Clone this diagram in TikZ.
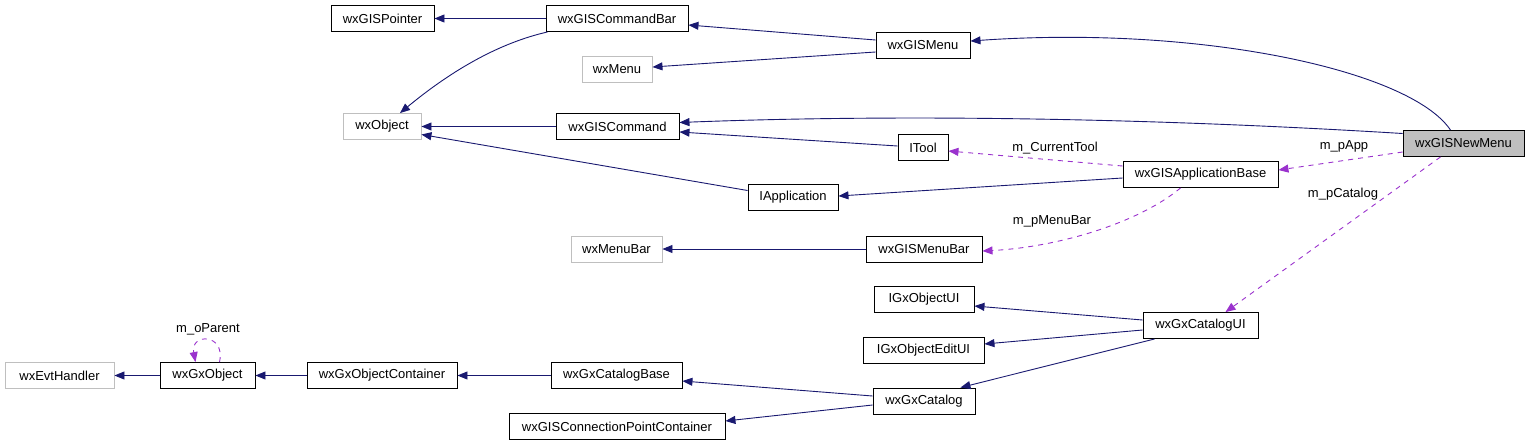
\documentclass[tikz,border=0pt]{standalone}
\usepackage{fontspec}
\setmainfont{Liberation Sans}
\usetikzlibrary{arrows.meta}
\definecolor{navy}{HTML}{191970}
\definecolor{orchid}{HTML}{9A32CD}
\definecolor{extgray}{HTML}{BFBFBF}
\begin{document}
\begin{tikzpicture}[x=1pt,y=-1pt,
  cls/.style={draw=black, fill=white, line width=0.9pt, minimum height=26pt, inner sep=0pt, font=\fontsize{13}{15}\selectfont},
  ext/.style={cls, draw=extgray},
  cur/.style={cls, fill=extgray},
  inh/.style={draw=navy, line width=0.9pt, -{Triangle[length=10pt,width=8pt]}},
  use/.style={draw=orchid, line width=0.9pt, dash pattern=on 5pt off 5pt, -{Triangle[length=10pt,width=8pt]}},
  lbl/.style={font=\fontsize{13}{15}\selectfont, inner sep=0pt}]
\useasboundingbox (0,0) rectangle (1531,445);

% nodes
\node[cls, minimum width=103pt] (ptr) at (382.5,18.5) {wxGISPointer};
\node[cls, minimum width=142pt] (cmdbar) at (617,18.5) {wxGISCommandBar};
\node[ext, minimum width=70pt] (wxmenu) at (617,69.5) {wxMenu};
\node[cls, minimum width=94pt] (gismenu) at (923,45) {wxGISMenu};
\node[ext, minimum width=78pt] (wxobj) at (382,126.5) {wxObject};
\node[cls, minimum width=123pt] (gcmd) at (617.5,126.5) {wxGISCommand};
\node[cls, minimum width=50pt] (itool) at (923,147.5) {ITool};
\node[cur, minimum width=121pt] (newmenu) at (1463.5,143.5) {wxGISNewMenu};
\node[cls, minimum width=155pt] (appbase) at (1200.5,174.5) {wxGISApplicationBase};
\node[cls, minimum width=90pt] (iapp) at (793,197.5) {IApplication};
\node[ext, minimum width=91pt] (wxmenubar) at (616.5,249) {wxMenuBar};
\node[cls, minimum width=116pt] (gismenubar) at (924,249) {wxGISMenuBar};
\node[cls, minimum width=100pt] (igxui) at (924,299.5) {IGxObjectUI};
\node[cls, minimum width=115pt] (catui) at (1200.5,325.5) {wxGxCatalogUI};
\node[cls, minimum width=121pt] (igxedit) at (923.5,350) {IGxObjectEditUI};
\node[ext, minimum width=109pt] (evt) at (59.5,375.5) {wxEvtHandler};
\node[cls, minimum width=95pt] (gxobj) at (207.5,375.5) {wxGxObject};
\node[cls, minimum width=150pt] (gxcont) at (382,375.5) {wxGxObjectContainer};
\node[cls, minimum width=131pt] (catbase) at (616.5,375.5) {wxGxCatalogBase};
\node[cls, minimum width=102pt] (cat) at (924,401) {wxGxCatalog};
\node[cls, minimum width=216pt] (cpc) at (617,426.5) {wxGISConnectionPointContainer};

% inheritance edges
\draw[inh] (cmdbar.west) -- (ptr.east);
\draw[inh] ([xshift=2pt]cmdbar.south west) .. controls (490,45) and (440,80) .. ([xshift=18pt]wxobj.north);
\draw[inh] ([yshift=5pt]gismenu.west) -- ([yshift=-6.5pt]cmdbar.east);
\draw[inh] ([yshift=-7pt]gismenu.west) -- ([yshift=2.5pt]wxmenu.east);
\draw[inh] (gcmd.west) -- (wxobj.east);
\draw[inh] ([yshift=7pt]iapp.west) -- ([yshift=-8pt]wxobj.east);
\draw[inh] ([xshift=-13pt]newmenu.north) .. controls (1410,70) and (1200,25) .. ([yshift=4pt]gismenu.east);
\draw[inh] ([yshift=10pt]newmenu.west) .. controls (1150,118) and (900,114) .. ([yshift=4pt]gcmd.east);
\draw[inh] ([yshift=1.5pt]itool.west) -- ([yshift=-5.5pt]gcmd.east);
\draw[inh] ([yshift=-3.5pt]appbase.west) -- ([yshift=1.5pt]iapp.east);
\draw[inh] (gismenubar.west) -- (wxmenubar.east);
\draw[inh] ([yshift=5.5pt]catui.west) -- ([yshift=-6.5pt]igxui.east);
\draw[inh] ([yshift=-4.5pt]catui.west) -- ([yshift=6pt]igxedit.east);
\draw[inh] ([xshift=12pt]catui.south west) -- ([xshift=-15pt]cat.north east);
\draw[inh] ([yshift=5pt]cat.west) -- ([yshift=-5.5pt]catbase.east);
\draw[inh] ([yshift=-4pt]cat.west) -- ([yshift=5.5pt]cpc.east);
\draw[inh] (catbase.west) -- (gxcont.east);
\draw[inh] (gxcont.west) -- (gxobj.east);
\draw[inh] (gxobj.west) -- (evt.east);

% usage edges
\draw[use] ([yshift=-8.5pt]newmenu.west) -- ([yshift=4.5pt]appbase.east);
\node[lbl] (lpapp) at (1344,146) {m\_pApp};
\draw[use] ([yshift=8.5pt]appbase.west) -- ([yshift=-3.5pt]itool.east);
\node[lbl] (lcur) at (1055,148) {m\_CurrentTool};
\draw[use] ([xshift=-20pt]appbase.south) .. controls (1140,222) and (1060,247) .. ([yshift=-2pt]gismenubar.east);
\node[lbl] (lmbar) at (1052,221) {m\_pMenuBar};
\draw[use] ([xshift=-23pt]newmenu.south) -- ([xshift=25pt]catui.north);
\node[lbl] (lcat) at (1343,194) {m\_pCatalog};
\draw[use] ([xshift=12pt]gxobj.north) .. controls (226,333) and (190,333) .. ([xshift=-12pt]gxobj.north);
\node[lbl] (lpar) at (208,329) {m\_oParent};
\end{tikzpicture}
\end{document}
